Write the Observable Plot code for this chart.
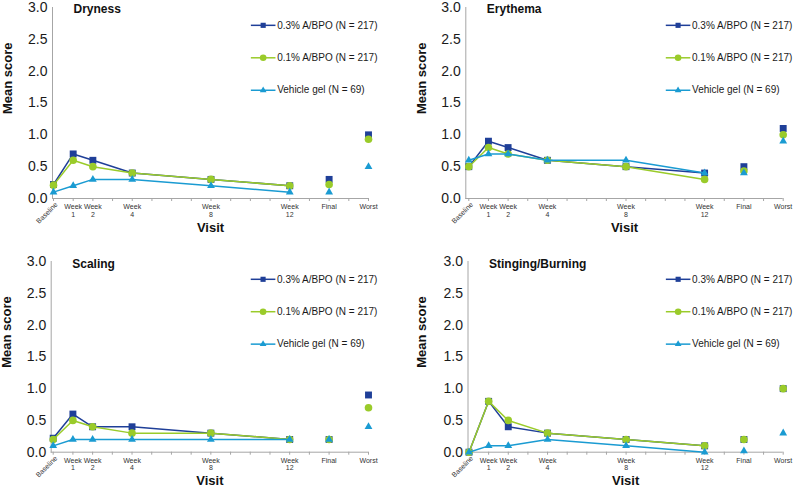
<!DOCTYPE html>
<html><head><meta charset="utf-8">
<script src="https://cdn.jsdelivr.net/npm/d3@7"></script>
<script src="https://cdn.jsdelivr.net/npm/@observablehq/plot@0.6"></script>
<style>
body{margin:0;background:#fff;}
#wrap{position:relative;width:793px;height:489px;overflow:hidden;background:#fff;}
.panel{position:absolute;}
</style></head><body><div id="wrap"></div>
<script>
// Visit positions (weeks; Final and Worst placed after Week 12)
const visitX = [0, 1, 2, 4, 8, 12, 14, 16];
const visitLabels = ["Baseline", "Week\n1", "Week\n2", "Week\n4", "Week\n8", "Week\n12", "Final", "Worst"];
const minorTicks = [0,1,2,3,4,5,6,7,8,9,10,11,12,13,14,15,16];
const yTicks = [0, 0.5, 1, 1.5, 2, 2.5, 3];
const seriesNames = ["0.3% A/BPO (N = 217)", "0.1% A/BPO (N = 217)", "Vehicle gel (N = 69)"];
const panelTitles = ["Dryness", "Erythema", "Scaling", "Stinging/Burning"];

// values: Baseline, Wk1, Wk2, Wk4, Wk8, Wk12, Final, Worst
const dryness03  = [0.22, 0.7, 0.6, 0.4, 0.3, 0.2, 0.3, 1.0];
const dryness01  = [0.21, 0.6, 0.5, 0.4, 0.3, 0.2, 0.22, 0.93];
const drynessVeh = [0.1, 0.2, 0.3, 0.3, 0.2, 0.1, 0.1, 0.5];

const erythema03  = [0.5, 0.9, 0.8, 0.6, 0.5, 0.4, 0.5, 1.1];
const erythema01  = [0.5, 0.8, 0.7, 0.6, 0.5, 0.3, 0.43, 1.0];
const erythemaVeh = [0.6, 0.7, 0.7, 0.6, 0.6, 0.4, 0.4, 0.9];

const scaling03  = [0.22, 0.6, 0.4, 0.4, 0.3, 0.2, 0.2, 0.9];
const scaling01  = [0.2, 0.5, 0.4, 0.3, 0.3, 0.2, 0.2, 0.7];
const scalingVeh = [0.1, 0.2, 0.2, 0.2, 0.2, 0.2, 0.2, 0.4];

const stinging03  = [0.0, 0.8, 0.4, 0.3, 0.2, 0.1, 0.2, 1.0];
const stinging01  = [0.0, 0.8, 0.5, 0.3, 0.2, 0.1, 0.2, 1.0];
const stingingVeh = [0.0, 0.1, 0.1, 0.2, 0.1, 0.0, 0.02, 0.3];

const panelData = [
  [dryness03, dryness01, drynessVeh],
  [erythema03, erythema01, erythemaVeh],
  [scaling03, scaling01, scalingVeh],
  [stinging03, stinging01, stingingVeh]
];

// styling
const colors = ["#1f3f98", "#9acb2a", "#1a9bd2"];
const symbols = ["square", "circle", "triangle"];
const radii = [3.9, 3.8, 2.9];
const legRadii = [2.9, 3.3, 2.5];
const axisGray = "#a6a6a6";
const font = "'Liberation Sans', Arial, sans-serif";

const layout = [
  {left: 0,   top: 0,   width: 400, height: 245, mt: 7,  mb: 47,   ml: 52,   mr: 32, inset: 1, yLabDx: -45, yLabDy: 11, titleDy: -3, visitDy: 29},
  {left: 400, top: 0,   width: 393, height: 245, mt: 7,  mb: 47,   ml: 65.3, mr: 10.3, inset: 3, yLabDx: -44, yLabDy: 11, titleDy: -3, visitDy: 29},
  {left: 0,   top: 245, width: 400, height: 244, mt: 16, mb: 37.3, ml: 50.7, mr: 32, inset: 2, yLabDx: -44, yLabDy: 11, titleDy: -2, visitDy: 28.5},
  {left: 400, top: 245, width: 393, height: 244, mt: 16, mb: 37.3, ml: 67.5, mr: 10.3, inset: 1, yLabDx: -46.5, yLabDy: 11, titleDy: -2, visitDy: 28.5}
];
const legendY = [2.72, 2.21, 1.70];

const wrap = document.getElementById("wrap");

panelData.forEach((series, k) => {
  const L = layout[k];
  const marks = [];
  marks.push(Plot.ruleY([0], {stroke: axisGray}));
  marks.push(Plot.frame({anchor: "left", stroke: axisGray}));
  marks.push(Plot.axisX({ticks: minorTicks, tickSize: 3, tickFormat: () => "", stroke: axisGray, strokeOpacity: 1, label: null}));
  marks.push(Plot.axisY({ticks: yTicks, tickSize: 0, tickPadding: 5, tickFormat: d3.format(".1f"), fontSize: 14, fill: "#1a1a1a", label: null}));

  // x tick labels
  const tickRows = visitLabels.map((t, i) => ({x: visitX[i], t}));
  marks.push(Plot.text(tickRows.slice(1), {x: "x", y: () => 0, text: "t", dy: 5, lineAnchor: "top", lineHeight: 1.1, fontSize: 7, fill: "#333"}));
  marks.push(Plot.text(tickRows.slice(0, 1), {x: "x", y: () => 0, text: "t", rotate: -45, textAnchor: "end", lineAnchor: "middle", dx: 3, dy: 5, fontSize: 7, fill: "#333"}));

  // series
  series.forEach((vals, s) => {
    const rows = vals.map((v, i) => ({x: visitX[i], y: v}));
    marks.push(Plot.line(rows.slice(0, 6), {x: "x", y: "y", stroke: colors[s], strokeWidth: 1.5}));
    marks.push(Plot.dot(rows, {x: "x", y: "y", symbol: symbols[s], r: radii[s], fill: colors[s], stroke: "none"}));
  });

  // legend
  seriesNames.forEach((name, s) => {
    marks.push(Plot.ruleY([legendY[s]], {x1: 10.05, x2: 11.3, stroke: colors[s], strokeWidth: 1.5}));
    marks.push(Plot.dot([legendY[s]], {x: 10.65, y: d => d, symbol: symbols[s], r: legRadii[s], fill: colors[s], stroke: "none"}));
    marks.push(Plot.text([name], {x: 11.36, y: () => legendY[s], text: d => d, textAnchor: "start", fontSize: 10, fill: "#1a1a1a"}));
  });

  // titles
  marks.push(Plot.text([panelTitles[k]], {frameAnchor: "top-left", text: d => d, dx: 21, dy: L.titleDy, textAnchor: "start", fontSize: 12, fontWeight: "bold", fill: "#111"}));
  marks.push(Plot.text(["Visit"], {frameAnchor: "bottom", text: d => d, lineAnchor: "middle", dy: L.visitDy, fontSize: 13, fontWeight: "bold", fill: "#111"}));
  marks.push(Plot.text(["Mean score"], {frameAnchor: "left", text: d => d, rotate: -90, dx: L.yLabDx, dy: L.yLabDy, fontSize: 13, fontWeight: "bold", fill: "#111"}));

  const chart = Plot.plot({
    width: L.width, height: L.height,
    marginTop: L.mt, marginBottom: L.mb, marginLeft: L.ml, marginRight: L.mr,
    x: {domain: [0, 16], insetLeft: L.inset},
    y: {domain: [0, 3]},
    style: {fontFamily: font, fontSize: "14px", color: "#1a1a1a", background: "transparent", overflow: "visible"},
    marks
  });
  chart.classList.add("panel");
  chart.style.left = L.left + "px";
  chart.style.top = L.top + "px";
  chart.style.position = "absolute";
  wrap.appendChild(chart);
});
</script>
</body></html>
